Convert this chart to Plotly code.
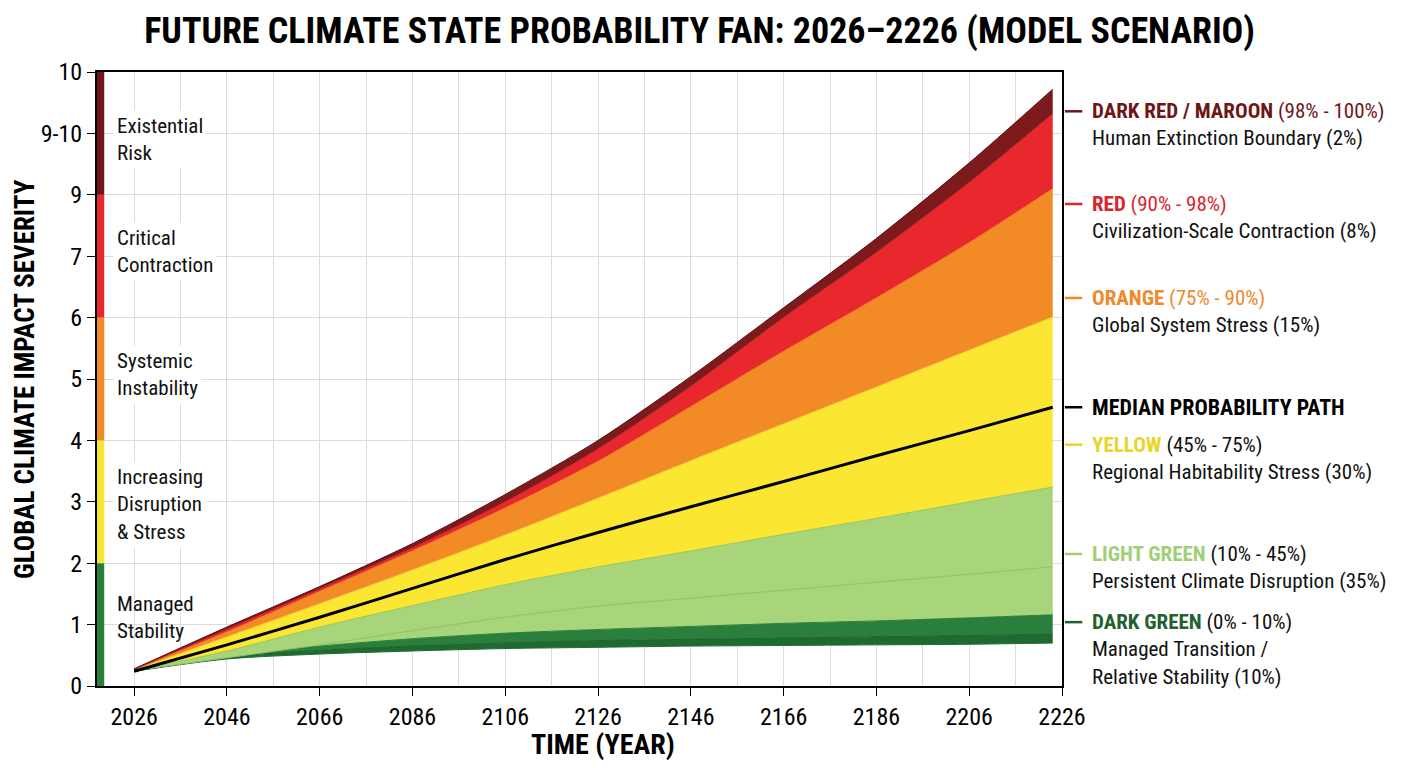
import plotly.graph_objects as go

# fan boundaries (severity units)
years = [2026, 2046, 2066, 2086, 2106, 2126, 2146, 2166, 2186, 2206, 2224]
dark_green_low = [0.24, 0.44, 0.52, 0.57, 0.61, 0.63, 0.65, 0.66, 0.67, 0.68, 0.70]
dark_green_mid = [0.24, 0.47, 0.58, 0.65, 0.70, 0.74, 0.76, 0.78, 0.80, 0.82, 0.84]
dark_green_top = [0.25, 0.50, 0.65, 0.77, 0.86, 0.92, 0.97, 1.02, 1.06, 1.11, 1.16]
light_green_mid = [0.25, 0.46, 0.67, 0.90, 1.12, 1.30, 1.43, 1.56, 1.69, 1.82, 1.94]
light_green_top = [0.25, 0.57, 0.96, 1.31, 1.65, 1.94, 2.20, 2.47, 2.73, 3.00, 3.24]
yellow_top = [0.26, 0.80, 1.34, 1.89, 2.46, 3.06, 3.67, 4.27, 4.87, 5.47, 6.01]
orange_top = [0.27, 0.88, 1.54, 2.20, 2.90, 3.66, 4.55, 5.45, 6.32, 7.22, 8.10]
red_top = [0.27, 0.92, 1.58, 2.25, 3.00, 3.86, 4.88, 6.00, 7.06, 8.20, 9.32]
maroon_top = [0.28, 0.96, 1.62, 2.32, 3.12, 4.00, 5.04, 6.16, 7.29, 8.52, 9.72]
median = [0.24, 0.67, 1.12, 1.59, 2.06, 2.50, 2.92, 3.33, 3.75, 4.16, 4.54]

y_ticks = [0, 1, 2, 3, 4, 5, 6, 7, 8, 9, 10]
y_tick_labels = ["0", "1", "2", "3", "4", "5", "6", "7", "9", "9-10", "10"]

# left severity bar
bar_from = [0, 2, 4, 6, 8]
bar_to = [2, 4, 6, 8, 10]
bar_colors = ["#2b7f3c", "#f7e62e", "#f28a25", "#e8262b", "#6e1518"]

band_labels = ["Managed<br>Stability", "Increasing<br>Disruption<br>& Stress",
               "Systemic<br>Instability", "Critical<br>Contraction",
               "Existential<br>Risk"]
band_label_y = [1.12, 2.95, 5.08, 7.07, 8.9]

NARROW = "Roboto Condensed, DejaVu Sans Condensed, sans-serif"

fig = go.Figure()

layers = [
    (dark_green_low, None, "#1f6a30"),
    (dark_green_mid, "#1f6a30", "#1c612c"),
    (dark_green_top, "#2b7f3c", "#2b7f3c"),
    (light_green_mid, "#a8d47a", "#8fbf68"),
    (light_green_top, "#a8d47a", "#95c65f"),
    (yellow_top, "#fbe632", "#f5c93a"),
    (orange_top, "#f28a25", "#ee7d24"),
    (red_top, "#e8282c", "#c72226"),
    (maroon_top, "#7d1a1c", "#5c1012"),
]
for ys, fill, edge in layers:
    fig.add_trace(go.Scatter(
        x=years, y=ys, mode="lines",
        line=dict(color=edge, width=1, shape="spline", smoothing=0.8),
        fill="tonexty" if fill else None, fillcolor=fill,
        hoverinfo="skip", showlegend=False))

fig.add_trace(go.Scatter(x=years, y=median, mode="lines",
                         line=dict(color="black", width=3, shape="spline", smoothing=0.8),
                         showlegend=False))

shapes = []
for a, b, c in zip(bar_from, bar_to, bar_colors):
    shapes.append(dict(type="rect", xref="paper", yref="y", x0=0, x1=0.0075,
                       y0=a, y1=b, fillcolor=c, line=dict(width=0), layer="above"))

annotations = []
for i, (txt, yy) in enumerate(zip(band_labels, band_label_y)):
    annotations.append(dict(text=txt, x=2021.4, y=yy, xref="x", yref="y",
                            xanchor="left", yanchor="middle", align="left",
                            bgcolor="rgba(0,0,0,0)" if i == 0 else "white", borderpad=3,
                            showarrow=False, font=dict(family=NARROW, size=21, color="#111")))

right_labels = [
    ("DARK RED / MAROON", " (98% - 100%)", "Human Extinction Boundary (2%)", "#6e1518", True, 9.36),
    ("RED", " (90% - 98%)", "Civilization-Scale Contraction (8%)", "#d9262b", True, 7.85),
    ("ORANGE", " (75% - 90%)", "Global System Stress (15%)", "#ee8a2a", True, 6.32),
    ("MEDIAN PROBABILITY PATH", "", None, "#000000", True, 4.54),
    ("YELLOW", " (45% - 75%)", "Regional Habitability Stress (30%)", "#e6d62a", False, 3.93),
    ("LIGHT GREEN", " (10% - 45%)", "Persistent Climate Disruption (35%)", "#9fcf78", False, 2.15),
    ("DARK GREEN", " (0% - 10%)", "Managed Transition /<br>Relative Stability (10%)", "#22602f", False, 1.04),
]
for head, rng, sub, col, all_col, yy in right_labels:
    rng_col = col if all_col else "#111"
    txt = "<span style='color:%s'><b>%s</b></span><span style='color:%s'>%s</span>" % (col, head, rng_col, rng)
    if sub:
        txt += "<br><span style='color:#111'>%s</span>" % sub
    size = 22 if sub is None else 21
    annotations.append(dict(text=txt, x=1.029, y=yy, xref="paper", yref="y",
                            xanchor="left", yanchor="top", yshift=14, align="left",
                            showarrow=False, font=dict(family=NARROW, size=size, color="#111")))
    shapes.append(dict(type="line", xref="paper", yref="y", x0=1.003, x1=1.021,
                       y0=yy, y1=yy, line=dict(color=col, width=2.5)))

annotations.append(dict(text="<b>TIME (YEAR)</b>", x=0.524, y=-0.096, xref="paper", yref="paper",
                        xanchor="center", yanchor="middle", showarrow=False,
                        font=dict(family=NARROW, size=28, color="black")))
annotations.append(dict(text="<b>GLOBAL CLIMATE IMPACT SEVERITY</b>", x=-0.0746, y=0.5,
                        xref="paper", yref="paper", textangle=-90, xanchor="center",
                        yanchor="middle", showarrow=False,
                        font=dict(family=NARROW, size=27, color="black")))

# the page body adds an 8px offset, so the figure is sized and placed to compensate
fig.update_layout(
    width=1400, height=760,
    margin=dict(l=89, r=346, t=64, b=82),
    paper_bgcolor="white", plot_bgcolor="white",
    title=dict(text="<b>FUTURE CLIMATE STATE PROBABILITY FAN: 2026\u20132226 (MODEL SCENARIO)</b>",
               x=0.494, xanchor="center", y=0.971, yanchor="middle",
               font=dict(family=NARROW, size=36, color="black")),
    shapes=shapes, annotations=annotations,
    xaxis=dict(range=[2018, 2226], tick0=2026, dtick=20, ticks="outside", ticklen=8,
               tickcolor="black", showline=True, linecolor="black", linewidth=2, mirror=True,
               showgrid=True, gridcolor="#dcdcdc", gridwidth=1, automargin=False,
               minor=dict(dtick=10, tick0=2026, showgrid=True, gridcolor="#dcdcdc"),
               tickfont=dict(family=NARROW, size=24, color="black"), zeroline=False),
    yaxis=dict(range=[0, 10], tickvals=y_ticks, ticktext=y_tick_labels, ticks="outside",
               ticklen=8, tickcolor="black", showline=True, linecolor="black", linewidth=2,
               mirror=True, showgrid=True, gridcolor="#dcdcdc", gridwidth=1, automargin=False,
               tickfont=dict(family=NARROW, size=24, color="black"), zeroline=False),
)

fig.write_html("out.html")
